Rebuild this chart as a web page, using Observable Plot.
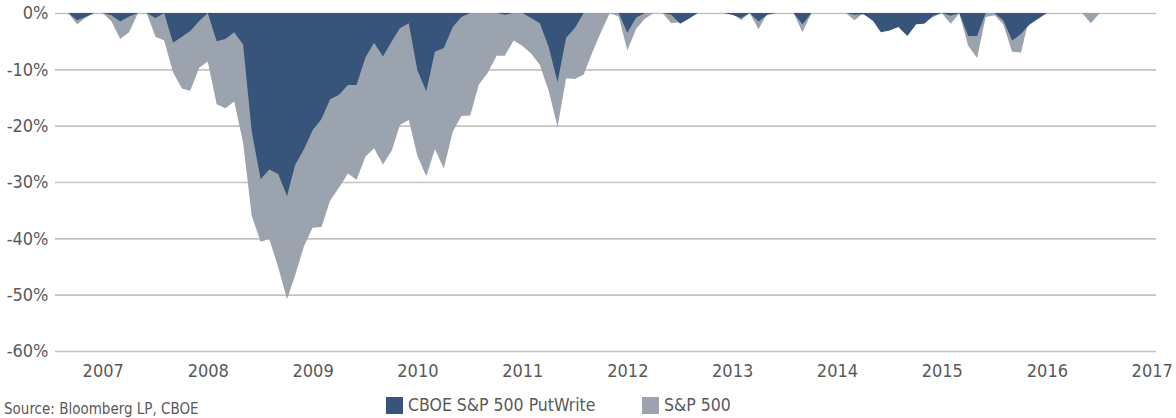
<!DOCTYPE html>
<html>
<head>
<meta charset="utf-8">
<script src="https://cdn.jsdelivr.net/npm/d3@7"></script>
<script src="https://cdn.jsdelivr.net/npm/@observablehq/plot@0.6"></script>
<style>
  body { margin: 0; background: #fff; }
  #wrap { position: relative; width: 1176px; height: 418px; overflow: hidden;
          font-family: "Liberation Sans Narrow", "DejaVu Sans Condensed", Roboto, sans-serif; color: #595959; }
  #chart { position: absolute; left: 0; top: 0; }
  .sw { position: absolute; width: 17px; height: 17px; }
  .lt { position: absolute; font-size: 17.5px; line-height: 18px; white-space: nowrap; }
  #source { position: absolute; left: 4px; top: 401px; font-size: 15px; line-height: 16px; white-space: nowrap; }
</style>
</head>
<body>
<div id="wrap">
  <div id="chart"></div>
  <div id="legend"></div>
  <div id="source"></div>
</div>
<script>
// Monthly drawdown (%), from Dec 2006 to May 2017
const firstMonth = [2006, 11]; // year, month index (0 = Jan)
const putWriteDrawdown = [
  0,
  0, -1.3, -0.7, 0, 0, -0.4, -1.5, -0.6, 0, 0, -0.9, 0,
  -5.3, -4.2, -3.2, -1.4, 0, -5.0, -4.6, -3.4, -5.6, -21.0, -29.5, -27.8,
  -28.6, -32.5, -27.0, -24.2, -20.8, -18.8, -15.3, -14.5, -12.8, -12.8, -7.9, -5.3,
  -7.7, -5.0, -2.7, -1.8, -10.2, -13.9, -6.9, -6.2, -2.5, -0.7, 0, 0,
  0, 0, -0.3, 0, 0, -0.9, -1.8, -6.0, -12.3, -4.4, -2.6, 0,
  0, 0, 0, 0, -3.5, -0.8, 0, 0, 0, -0.3, -1.9, -1.0,
  0, 0, 0, 0, -0.3, -0.9, 0, -1.5, -0.3, 0, 0, 0,
  -2.0, 0, 0, 0, 0, 0, -0.3, -0.2, -1.2, -3.4, -3.1, -2.5,
  -4.1, -2.0, -1.9, -0.5, 0, -0.5, 0, -4.1, -4.1, 0, 0, -1.3,
  -4.9, -3.7, -2.1, -1.0, 0, 0, 0, 0, 0, 0, 0, 0,
  0, 0, 0, 0, 0
];
const sp500Drawdown = [
  0,
  0, -2.0, -0.9, 0, 0, -1.5, -4.6, -3.4, 0, 0, -4.2, -4.9,
  -10.5, -13.4, -13.8, -9.7, -8.6, -16.2, -16.9, -15.7, -23.0, -36.0, -40.6, -40.1,
  -45.1, -50.8, -46.6, -41.4, -38.1, -38.0, -33.3, -31.0, -28.5, -29.6, -25.5, -24.0,
  -26.9, -24.4, -19.9, -19.0, -25.4, -29.0, -24.2, -27.6, -21.1, -18.3, -18.2, -12.7,
  -10.6, -7.6, -7.6, -4.9, -5.8, -7.2, -9.2, -13.8, -20.2, -11.6, -11.7, -10.9,
  -6.9, -3.2, 0, -0.6, -6.6, -2.8, -1.0, 0, 0, -1.8, -1.6, -0.6,
  0, 0, 0, 0, 0, -1.3, 0, -2.9, 0, 0, 0, 0,
  -3.4, 0, 0, 0, 0, 0, -1.3, 0, -1.4, 0, 0, -0.3,
  -3.0, 0, -1.6, -0.7, 0, -1.9, -0.1, -5.8, -8.0, -0.7, -0.4, -2.0,
  -6.9, -7.0, -0.7, -0.4, 0, 0, 0, 0, 0, -1.8, 0, 0,
  0, 0, 0, 0, 0
];
const seriesNames = ["CBOE S&P 500 PutWrite", "S&P 500"];
const seriesColors = ["#37547a", "#9ba4ae"];
const yTicks = [0, -10, -20, -30, -40, -50, -60];
const yearLabels = [2007, 2008, 2009, 2010, 2011, 2012, 2013, 2014, 2015, 2016, 2017];
const sourceText = "Source: Bloomberg LP, CBOE";

const rows = putWriteDrawdown.map((pw, i) => ({
  date: new Date(Date.UTC(firstMonth[0], firstMonth[1] + i, 1)),
  pw,
  sp: sp500Drawdown[i]
}));
const lastDate = rows[rows.length - 1].date;
const xDomain = [
  new Date(Date.UTC(firstMonth[0], firstMonth[1] - 1, 16)),
  new Date(Date.UTC(lastDate.getUTCFullYear(), lastDate.getUTCMonth(), 16))
];
const yearTicks = yearLabels.map(y => new Date(Date.UTC(y, 4, 1)));

const chart = Plot.plot({
  width: 1176,
  height: 385,
  marginLeft: 55,
  marginRight: 20,
  marginTop: 13,
  marginBottom: 34,
  style: {
    fontFamily: '"Liberation Sans Narrow", "DejaVu Sans Condensed", Roboto, sans-serif',
    fontSize: "18px",
    color: "#595959",
    background: "transparent"
  },
  x: { type: "utc", domain: xDomain },
  y: { domain: [-60, 0] },
  marks: [
    Plot.ruleY(yTicks, { stroke: "#c3c3c3", strokeWidth: 1.6 }),
    Plot.areaY(rows, { x: "date", y: "sp", fill: seriesColors[1] }),
    Plot.areaY(rows, { x: "date", y: "pw", fill: seriesColors[0] }),
    Plot.axisY({ ticks: yTicks, tickSize: 0, tickPadding: 7, label: null, tickFormat: d => d + "%" }),
    Plot.axisX({ ticks: yearTicks, tickSize: 0, tickPadding: 13, label: null, tickFormat: d => String(d.getUTCFullYear()) })
  ]
});
document.getElementById("chart").appendChild(chart);

// Legend
const legend = document.getElementById("legend");
const legendPos = [{ sw: 386, tx: 408 }, { sw: 642, tx: 664 }];
seriesNames.forEach((name, i) => {
  const sw = document.createElement("div");
  sw.className = "sw";
  sw.style.left = legendPos[i].sw + "px";
  sw.style.top = "397px";
  sw.style.background = seriesColors[i];
  legend.appendChild(sw);
  const t = document.createElement("div");
  t.className = "lt";
  t.style.left = legendPos[i].tx + "px";
  t.style.top = "396px";
  t.textContent = name;
  legend.appendChild(t);
});
document.getElementById("source").textContent = sourceText;
</script>
</body>
</html>
